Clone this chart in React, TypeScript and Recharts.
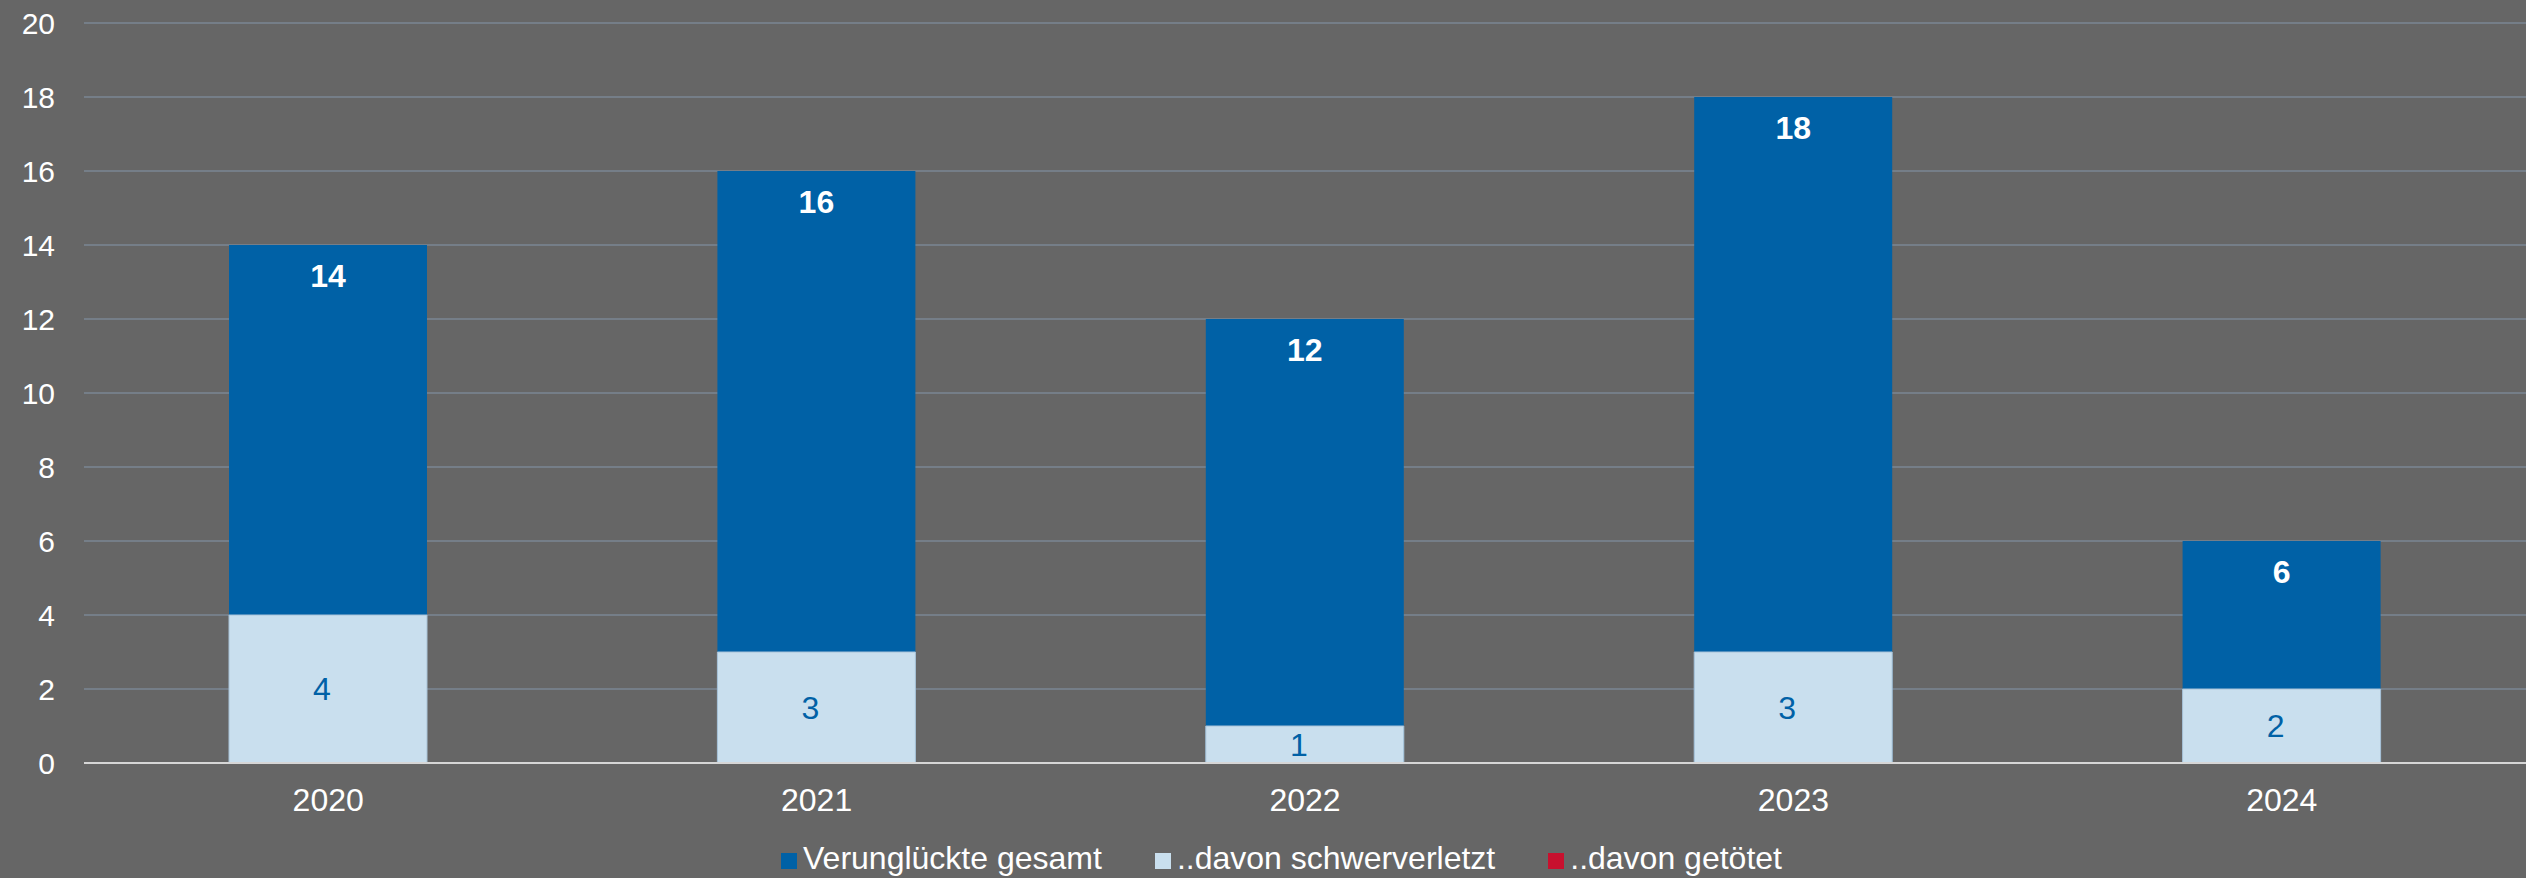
import { Bar, BarChart, CartesianGrid, LabelList, Legend, XAxis, YAxis } from "recharts";

const years = ["2020", "2021", "2022", "2023", "2024"];
const gesamt = [14, 16, 12, 18, 6];
const schwerverletzt = [4, 3, 1, 3, 2];
const getoetet = [0, 0, 0, 0, 0];
const yTicks = [0, 2, 4, 6, 8, 10, 12, 14, 16, 18, 20];

const seriesNames = ["Verunglückte gesamt", "..davon schwerverletzt", "..davon getötet"];
const seriesColors = ["#0061a6", "#c9dfee", "#c8102e"];

const FONT = '"Liberation Sans", Arial, sans-serif';

const data = years.map((year, i) => ({
  year,
  gesamt: gesamt[i],
  schwer: schwerverletzt[i],
  tot: getoetet[i],
}));

function ChartLegend() {
  return (
    <div
      style={{
        display: "flex",
        justifyContent: "center",
        paddingLeft: 37,
        fontFamily: FONT,
        fontSize: 32,
        lineHeight: "32px",
        color: "#ffffff",
        whiteSpace: "nowrap",
      }}
    >
      {seriesNames.map((name, i) => (
        <span key={name} style={{ display: "inline-flex", alignItems: "baseline", marginRight: i < seriesNames.length - 1 ? 53 : 0 }}>
          <span style={{ display: "inline-block", width: 16, height: 16, background: seriesColors[i], marginRight: 6 }} />
          {name}
        </span>
      ))}
    </div>
  );
}

export default function App() {
  return (
    <div style={{ position: "absolute", left: 0, top: 0, width: 2526, height: 878, background: "#666666" }}>
      <BarChart width={2526} height={878} data={data} margin={{ top: 23, right: 0, left: 0, bottom: 4 }} style={{ fontFamily: FONT }}>
        <CartesianGrid xAxisId="main" vertical={false} stroke="#7b8794" strokeWidth={1.5} />
        <XAxis
          xAxisId="main"
          dataKey="year"
          height={79}
          tickLine={false}
          tickSize={0}
          tickMargin={25}
          axisLine={{ stroke: "#d6d6d6", strokeWidth: 2 }}
          tick={{ fill: "#ffffff", fontSize: 32, fontFamily: FONT }}
        />
        <XAxis xAxisId="over" dataKey="year" hide />
        <XAxis xAxisId="red" dataKey="year" hide />
        <YAxis
          domain={[0, 20]}
          ticks={yTicks}
          width={84}
          axisLine={false}
          tickLine={false}
          tickSize={0}
          tickMargin={29}
          tick={{ fill: "#ffffff", fontSize: 30, fontFamily: FONT }}
        />
        <Legend verticalAlign="bottom" content={() => <ChartLegend />} />
        <Bar xAxisId="main" dataKey="gesamt" name={seriesNames[0]} fill={seriesColors[0]} barSize={198} isAnimationActive={false}>
          <LabelList dataKey="gesamt" position="insideTop" offset={19} fill="#ffffff" fontSize={32} fontWeight="bold" fontFamily={FONT} />
        </Bar>
        <Bar xAxisId="over" dataKey="schwer" name={seriesNames[1]} fill={seriesColors[1]} stroke="#a9c3d8" strokeWidth={1} barSize={198} isAnimationActive={false}>
          <LabelList dataKey="schwer" position="center" dx={-6} fill="#0061a6" fontSize={32} fontFamily={FONT} />
        </Bar>
        <Bar xAxisId="red" dataKey="tot" name={seriesNames[2]} fill={seriesColors[2]} barSize={198} isAnimationActive={false} />
      </BarChart>
    </div>
  );
}
